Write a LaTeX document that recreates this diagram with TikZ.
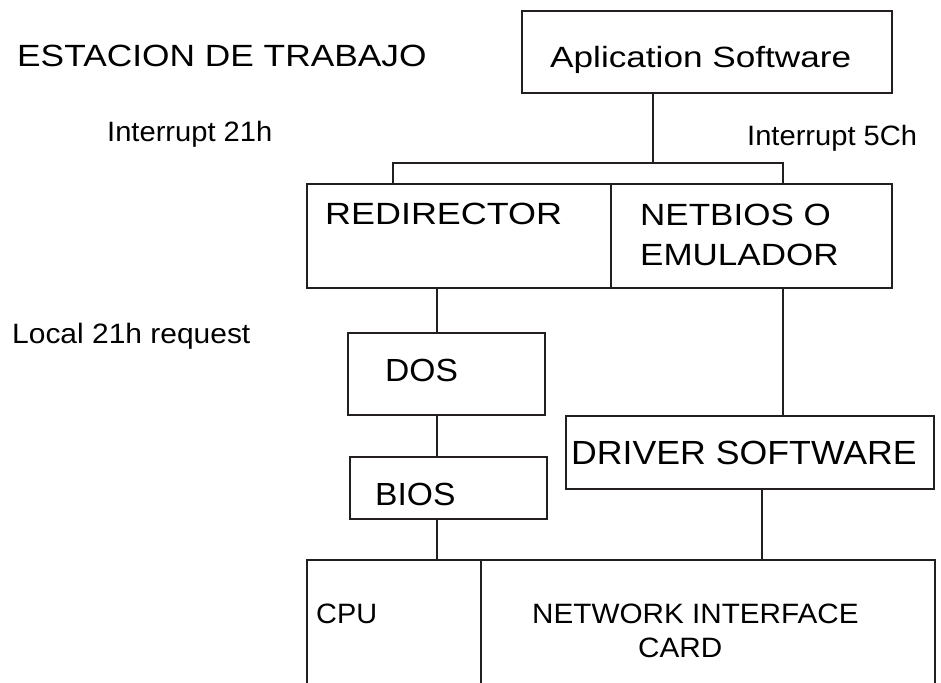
\documentclass[tikz,border=0pt]{standalone}
\usepackage{fontspec}
\setmainfont{Liberation Sans}
\usepackage{graphicx}
\definecolor{ink}{HTML}{231F20}
% size (pt), horizontal stretch, text
\newcommand\txt[3]{\fontsize{#1}{#1}\selectfont\scalebox{#2}[1]{#3}}
\tikzset{
  box/.style={draw=ink, line width=2.2pt, inner sep=0pt, anchor=north west},
  lbl/.style={inner sep=0pt, anchor=base west, text=black},
  wire/.style={draw=ink, line width=2.2pt}
}
\begin{document}
\begin{tikzpicture}[x=1pt,y=-1pt]
\useasboundingbox (0,0) rectangle (941,682);
\clip (0,0) rectangle (941,682);
\fill[white] (0,0) rectangle (941,682);

% boxes
\node[box, minimum width=370pt, minimum height=82pt]  (app)    at (521,10)  {};
\node[box, minimum width=304pt, minimum height=104pt] (redir)  at (306,183) {};
\node[box, minimum width=281pt, minimum height=104pt] (netb)   at (610,183) {};
\node[box, minimum width=197pt, minimum height=82pt]  (dos)    at (347,332) {};
\node[box, minimum width=197pt, minimum height=62pt]  (bios)   at (349,456) {};
\node[box, minimum width=368pt, minimum height=73pt]  (driver) at (565,415) {};
\node[box, minimum width=174pt, minimum height=140pt] (cpu)    at (306,559) {};
\node[box, minimum width=454pt, minimum height=140pt] (nic)    at (480,559) {};

% connector positions
\coordinate (jm) at (653,163);
\coordinate (jl) at (393,163);
\coordinate (jr) at (783,163);
\coordinate (xa) at (437,0);
\coordinate (xb) at (783,0);
\coordinate (xc) at (762,0);

% connectors
\draw[wire] (app.south -| jm) -- (jm);
\draw[wire] (redir.north -| jl) -- (jl) -- (jr) -- (netb.north -| jr);
\draw[wire] (redir.south -| xa) -- (dos.north -| xa);
\draw[wire] (dos.south -| xa) -- (bios.north -| xa);
\draw[wire] (bios.south -| xa) -- (cpu.north -| xa);
\draw[wire] (netb.south -| xb) -- (driver.north -| xb);
\draw[wire] (driver.south -| xc) -- (nic.north -| xc);

% texts
\node[lbl] (title) at (17,67)   {\txt{30.7}{1.15}{ESTACION DE TRABAJO}};
\node[lbl] (appt)  at (550,68)  {\txt{29.3}{1.2}{Aplication Software}};
\node[lbl] (i21)   at (107,141) {\txt{28}{1.04}{Interrupt 21h}};
\node[lbl] (i5c)   at (747,145) {\txt{28}{1.04}{Interrupt 5Ch}};
\node[lbl] (redt)  at (325,224) {\txt{30.7}{1.17}{REDIRECTOR}};
\node[lbl] (nb1)   at (640,225) {\txt{30.7}{1.14}{NETBIOS O}};
\node[lbl] (nb2)   at (640,265) {\txt{30.7}{1.14}{EMULADOR}};
\node[lbl] (loc)   at (12,343)  {\txt{28}{1.07}{Local 21h request}};
\node[lbl] (dost)  at (385,381) {\txt{32}{1.05}{DOS}};
\node[lbl] (drvt)  at (571,464) {\txt{33.5}{1.065}{DRIVER SOFTWARE}};
\node[lbl] (biost) at (375,505) {\txt{32}{1.05}{BIOS}};
\node[lbl] (cput)  at (316,623) {\txt{28}{1.03}{CPU}};
\node[lbl] (nict)  at (532,623) {\txt{28}{1.06}{NETWORK INTERFACE}};
\node[lbl] (cardt) at (638,657) {\txt{28}{1.06}{CARD}};
\end{tikzpicture}
\end{document}
